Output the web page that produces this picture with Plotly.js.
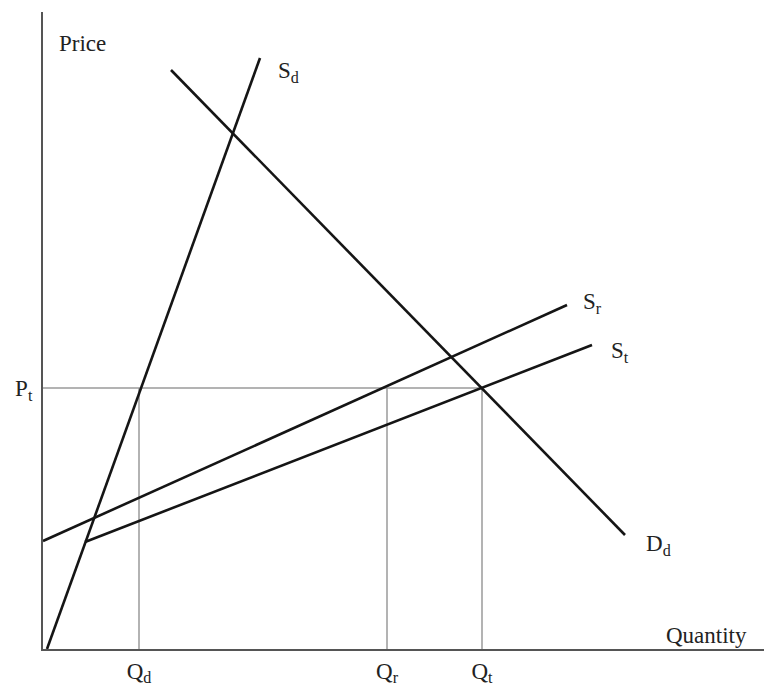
<!DOCTYPE html>
<html>
<head>
<meta charset="utf-8">
<script src="https://cdn.plot.ly/plotly-3.0.1.min.js"></script>
<style>html,body{margin:0;padding:0;background:#fff;}</style>
</head>
<body>
<div id="chart" style="width:764px;height:688px;"></div>
<script>
// Curve end points (quantity, price)
const sdX = [4, 217], sdY = [0, 591];          // domestic supply S_d
const ddX = [128, 582], ddY = [579, 114];      // domestic demand D_d
const srX = [0, 524], srY = [108, 344];        // S_r
const stX = [42, 549], stY = [107, 304];       // S_t
// Reference levels
const priceT = 261;                            // P_t
const qVals = [96, 344, 439];                  // Q_d, Q_r, Q_t
const qLabels = ['Q<sub>d</sub>', 'Q<sub>r</sub>', 'Q<sub>t</sub>'];
const pLabels = ['P<sub>t</sub>'];
const curveNames = ['S<sub>d</sub>', 'D<sub>d</sub>', 'S<sub>r</sub>', 'S<sub>t</sub>'];

const font = 'Liberation Serif, Times New Roman, serif';
const fs = 23;
const black = {color: '#151515', width: 2.6};
const guide = {color: '#9a9a9a', width: 1.5};

const traces = [];
// guide lines
traces.push({x: [0, qVals[2]], y: [priceT, priceT], mode: 'lines', line: guide, hoverinfo: 'skip'});
qVals.forEach(q => traces.push({x: [q, q], y: [0, priceT], mode: 'lines', line: guide, hoverinfo: 'skip'}));
// curves
[[sdX, sdY], [ddX, ddY], [srX, srY], [stX, stY]].forEach(([x, y]) =>
  traces.push({x: x, y: y, mode: 'lines', line: black, hoverinfo: 'skip'}));

const ann = (x, y, text, xanchor) => ({x: x, y: y, xref: 'x', yref: 'y', text: text, showarrow: false,
  xanchor: xanchor || 'left', yanchor: 'middle', font: {family: font, size: fs, color: '#222'}});

const layout = {
  width: 764, height: 688,
  margin: {l: 43, r: 0, t: 12, b: 39, pad: 0},
  paper_bgcolor: '#fff', plot_bgcolor: '#fff',
  showlegend: false,
  font: {family: font, size: fs, color: '#222'},
  xaxis: {range: [0, 721], showgrid: false, zeroline: false, showline: true, linecolor: '#555', linewidth: 2,
    tickmode: 'array', tickvals: qVals, ticktext: qLabels, ticks: '', ticklabelstandoff: 0,
    tickfont: {family: font, size: fs, color: '#222'}, fixedrange: true},
  yaxis: {range: [0, 637], showgrid: false, zeroline: false, showline: true, linecolor: '#555', linewidth: 2,
    tickmode: 'array', tickvals: [priceT], ticktext: pLabels, ticks: '', ticklabelstandoff: 4,
    tickfont: {family: font, size: fs, color: '#222'}, fixedrange: true},
  annotations: [
    ann(14, 606, 'Price'),
    ann(233, 577, curveNames[0]),
    ann(601, 104, curveNames[1]),
    ann(538, 346, curveNames[2]),
    ann(566, 297, curveNames[3]),
    ann(706, 14, 'Quantity', 'right')
  ]
};

Plotly.newPlot('chart', traces, layout, {displayModeBar: false, staticPlot: true});
</script>
</body>
</html>
